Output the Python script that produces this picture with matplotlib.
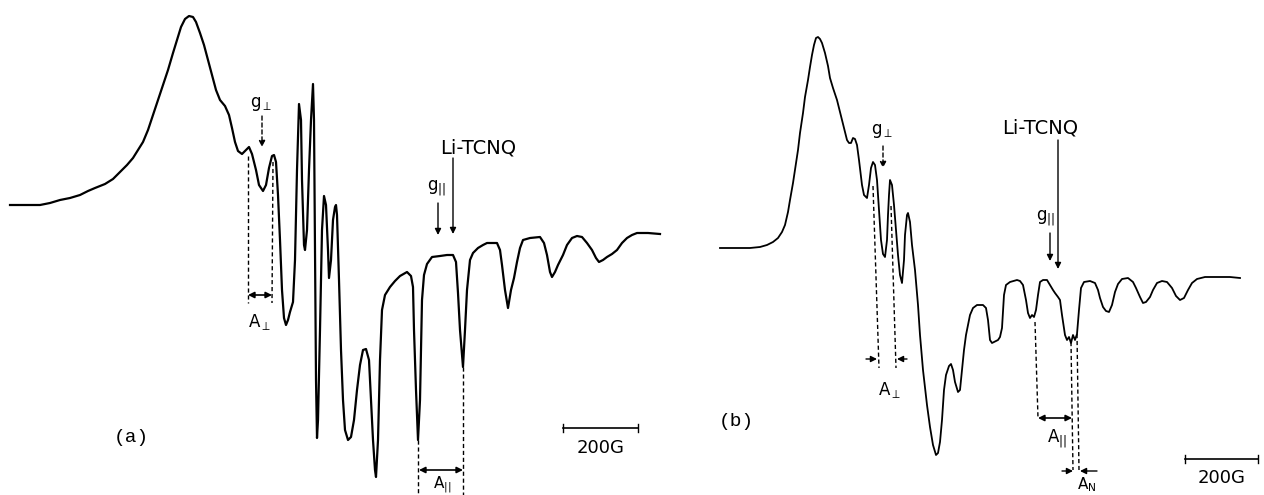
import matplotlib
matplotlib.use("Agg")
import matplotlib.pyplot as plt

# traces (horizontal = field, vertical = signal, page pixels)
a_x = [10, 25, 40, 50, 60, 70, 80, 88, 95, 105, 113, 120, 127, 133, 138, 143, 148, 153, 158, 163,
       168, 173, 177, 181, 185, 189, 193, 196, 200, 204, 208, 212, 216, 220, 225, 229, 232, 235, 238, 242,
       246, 249, 252, 256, 259, 263, 266, 269, 272, 274, 276, 278, 280, 282, 284, 286, 288, 290, 293, 295,
       297, 299, 301, 302, 304, 305, 307, 309, 311, 313, 314, 315, 316, 317, 318, 320, 322, 324, 326, 328,
       329, 331, 333, 335, 336, 337, 339, 341, 343, 345, 348, 351, 354, 357, 360, 363, 366, 369, 371, 373,
       375, 376, 378, 380, 382, 385, 390, 395, 400, 407, 411, 413, 414, 416, 418, 420, 421, 422, 424, 427,
       432, 440, 447, 453, 456, 458, 460, 463, 465, 467, 470, 473, 478, 483, 487, 492, 497, 500, 502, 505,
       508, 511, 514, 517, 520, 523, 530, 540, 544, 547, 550, 552, 555, 558, 563, 567, 572, 577, 582, 587,
       592, 596, 599, 603, 607, 612, 617, 622, 627, 632, 637, 648, 660]
a_y = [205, 205, 205, 203, 200, 198, 195, 191, 188, 184, 179, 172, 165, 158, 150, 142, 130, 115, 100, 85,
       70, 53, 40, 27, 19, 16, 17, 22, 33, 45, 60, 75, 90, 100, 106, 115, 128, 142, 151, 154,
       150, 147, 154, 170, 185, 191, 185, 168, 156, 155, 162, 195, 240, 290, 318, 325, 320, 312, 302, 260,
       170, 104, 120, 180, 245, 250, 230, 170, 120, 84, 120, 250, 380, 438, 420, 330, 230, 196, 205, 250,
       278, 260, 220, 207, 205, 215, 280, 350, 400, 430, 440, 437, 420, 390, 365, 350, 349, 360, 400, 440,
       470, 477, 440, 360, 310, 295, 287, 281, 276, 272, 276, 287, 330, 390, 440, 400, 350, 300, 275, 264,
       257, 256, 255, 255, 262, 293, 330, 367, 330, 290, 260, 253, 248, 245, 243, 243, 243, 250, 265, 290,
       308, 290, 278, 262, 248, 240, 238, 237, 243, 255, 272, 277, 272, 265, 255, 245, 238, 236, 237, 243,
       250, 258, 262, 260, 257, 254, 250, 243, 238, 235, 233, 233, 234]

b_x = [720, 735, 750, 760, 767, 773, 778, 782, 785, 788, 790, 793, 795, 798, 800, 803, 805, 808, 810, 812,
       814, 816, 818, 820, 822, 825, 828, 830, 833, 837, 840, 842, 845, 847, 849, 851, 853, 855, 857, 859,
       862, 864, 867, 869, 871, 873, 875, 877, 879, 881, 883, 885, 887, 888, 889, 890, 892, 894, 896, 898,
       900, 902, 904, 905, 907, 908, 910, 912, 915, 918, 920, 923, 927, 930, 933, 936, 938, 940, 942, 944,
       946, 949, 951, 953, 955, 958, 960, 962, 964, 966, 968, 970, 973, 977, 983, 986, 988, 990, 992, 996,
       998, 1000, 1002, 1004, 1006, 1010, 1017, 1020, 1023, 1026, 1028, 1030, 1032, 1034, 1036, 1038, 1040, 1043, 1047, 1050,
       1053, 1055, 1058, 1060, 1062, 1065, 1067, 1069, 1071, 1073, 1075, 1077, 1079, 1081, 1084, 1090, 1095, 1098, 1100, 1103,
       1106, 1109, 1112, 1115, 1118, 1122, 1128, 1133, 1136, 1140, 1143, 1146, 1150, 1153, 1157, 1162, 1167, 1172, 1176, 1180,
       1184, 1188, 1192, 1197, 1205, 1217, 1230, 1240]
b_y = [248, 248, 248, 247, 245, 242, 238, 232, 225, 212, 200, 183, 170, 150, 133, 113, 97, 80, 67, 55,
       45, 38, 37, 39, 43, 53, 66, 78, 88, 100, 112, 120, 132, 140, 143, 143, 138, 139, 145, 160,
       185, 195, 198, 185, 168, 162, 165, 180, 210, 240, 254, 257, 240, 215, 195, 180, 185, 205, 230, 255,
       275, 283, 260, 235, 215, 213, 222, 245, 270, 305, 335, 370, 405, 427, 445, 455, 453, 442, 420, 390,
       375, 366, 364, 370, 382, 392, 390, 370, 350, 335, 325, 315, 308, 305, 305, 308, 320, 340, 343, 341,
       340, 337, 328, 295, 285, 282, 280, 281, 285, 300, 313, 318, 315, 317, 310, 295, 282, 280, 280, 285,
       290, 293, 297, 300, 315, 335, 340, 337, 343, 335, 340, 334, 310, 288, 282, 281, 283, 290, 298, 307,
       311, 312, 305, 292, 284, 279, 278, 282, 288, 297, 303, 302, 297, 290, 283, 281, 282, 288, 296, 300,
       298, 290, 283, 279, 277, 277, 277, 278]

fig = plt.figure(figsize=(12.64, 4.95), dpi=100)
ax = fig.add_axes([0, 0, 1, 1])
ax.set_xlim(0, 1264)
ax.set_ylim(495, 0)
ax.axis("off")

ax.plot(a_x, a_y, color="black", lw=1.6, solid_joinstyle="round")
ax.plot(b_x, b_y, color="black", lw=1.3, solid_joinstyle="round")

dash = dict(color="black", lw=1.0, dashes=(3, 2))
sans = "DejaVu Sans"
mono = "Liberation Mono"
arr = dict(arrowstyle="-|>", color="black", lw=1.0, mutation_scale=9, shrinkA=0, shrinkB=0)
arr_dash = dict(arrowstyle="-|>", color="black", lw=1.0, ls=(0, (3, 2)), mutation_scale=9,
                shrinkA=0, shrinkB=0)
dbl = dict(arrowstyle="<|-|>", color="black", lw=1.2, mutation_scale=9, shrinkA=0, shrinkB=0)


def arrow(x0, y0, x1, y1, style):
    ax.annotate("", xy=(x1, y1), xytext=(x0, y0), arrowprops=style)


# ---- panel (a) ----
ax.text(131, 437, "(a)", fontsize=14, family=mono, ha="center", va="center")
ax.text(261, 104, r"g$_\perp$", fontsize=12, family=sans, ha="center", va="center")
arrow(262, 116, 262, 147, arr_dash)
ax.plot([248, 248], [156, 303], **dash)
ax.plot([273, 272], [162, 303], **dash)
arrow(248, 295, 272, 295, dbl)
ax.text(260, 322, r"A$_\perp$", fontsize=12, family=sans, ha="center", va="center")

ax.text(478, 148, "Li-TCNQ", fontsize=14, family=sans, ha="center", va="center")
arrow(453, 158, 453, 234, arr)
ax.text(437, 188, r"g$_{||}$", fontsize=12, family=sans, ha="center", va="center")
arrow(438, 203, 438, 235, arr)
ax.plot([418, 418], [440, 495], **dash)
ax.plot([463, 463], [367, 495], **dash)
arrow(419, 470, 463, 470, dbl)
ax.text(442, 485, r"A$_{||}$", fontsize=11, family=sans, ha="center", va="center")

ax.plot([563, 638], [428, 428], color="black", lw=1.2)
ax.plot([563, 563], [424, 432], color="black", lw=1.0)
ax.plot([638, 638], [424, 432], color="black", lw=1.0)
ax.text(601, 448, "200G", fontsize=13, family=sans, ha="center", va="center")

# ---- panel (b) ----
ax.text(736, 421, "(b)", fontsize=14, family=mono, ha="center", va="center")
ax.text(882, 131, r"g$_\perp$", fontsize=12, family=sans, ha="center", va="center")
arrow(883, 146, 883, 168, arr_dash)
ax.plot([873, 879], [186, 368], **dash)
ax.plot([891, 896], [206, 368], **dash)
arrow(866, 359, 877, 359, arr)
arrow(907, 359, 897, 359, arr)
ax.text(890, 390, r"A$_\perp$", fontsize=12, family=sans, ha="center", va="center")

ax.text(1040, 128, "Li-TCNQ", fontsize=14, family=sans, ha="center", va="center")
arrow(1058, 140, 1058, 269, arr)
ax.text(1046, 218, r"g$_{||}$", fontsize=12, family=sans, ha="center", va="center")
arrow(1050, 233, 1050, 261, arr)
ax.plot([1035, 1038], [322, 418], **dash)
ax.plot([1071, 1073], [342, 470], **dash)
ax.plot([1077, 1079], [334, 470], **dash)
arrow(1038, 418, 1072, 418, dbl)
ax.text(1057, 439, r"A$_{||}$", fontsize=12, family=sans, ha="center", va="center")
arrow(1062, 471, 1073, 471, arr)
arrow(1097, 471, 1080, 471, arr)
ax.text(1087, 485, r"A$_\mathrm{N}$", fontsize=11, family=sans, ha="center", va="center")

ax.plot([1185, 1258], [459, 459], color="black", lw=1.2)
ax.plot([1185, 1185], [455, 463], color="black", lw=1.0)
ax.plot([1258, 1258], [455, 463], color="black", lw=1.0)
ax.text(1222, 478, "200G", fontsize=13, family=sans, ha="center", va="center")

fig.savefig("out.png", dpi=100, facecolor="white")
